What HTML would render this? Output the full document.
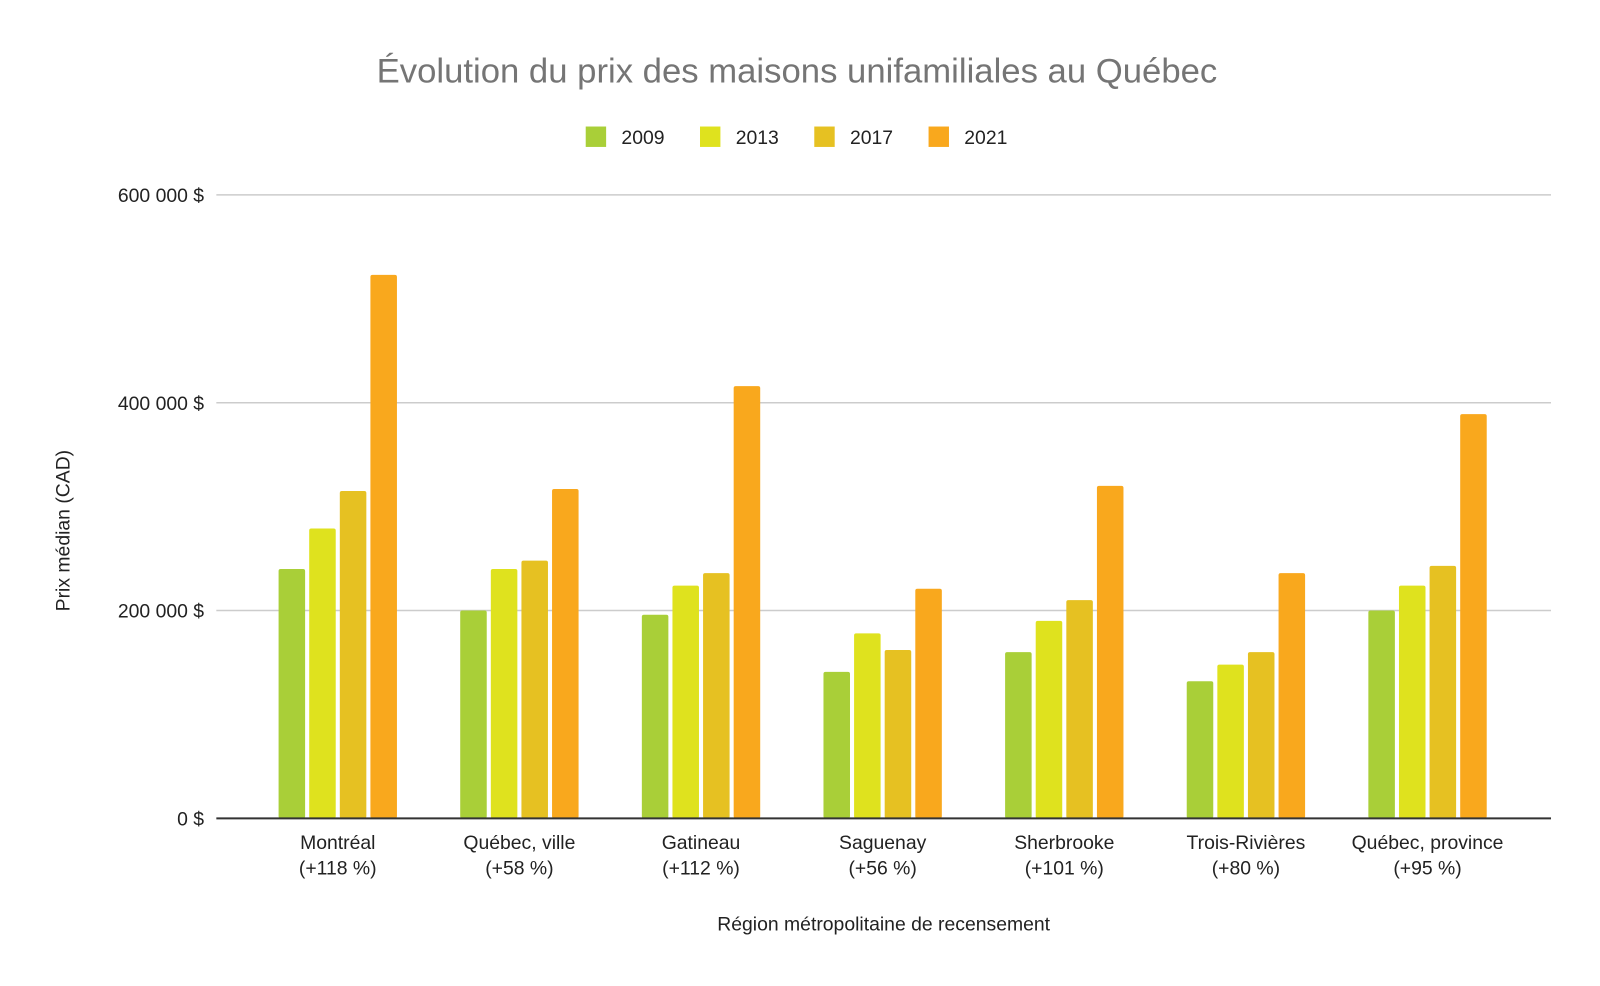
<!DOCTYPE html>
<html><head><meta charset="utf-8"><style>
body{margin:0;background:#fff;font-family:"Liberation Sans",Arial,sans-serif}
svg text{font-family:"Liberation Sans",Arial,sans-serif}
</style></head><body>
<svg id="chart" width="1600" height="986" viewBox="0 0 1568 966.3" xmlns="http://www.w3.org/2000/svg" style="display:block">
<rect width="1568" height="967" fill="#fff"/>
<text x="781" y="81" text-anchor="middle" font-size="34" fill="#757575">Évolution du prix des maisons unifamiliales au Québec</text>
<g id="legend"></g>
<g id="grid"></g><g id="bars"></g><g id="xlabels"></g>
<text transform="translate(68,520) rotate(-90)" text-anchor="middle" font-size="19" fill="#222">Prix médian (CAD)</text>
<text x="866" y="912" text-anchor="middle" font-size="19" fill="#222">Région métropolitaine de recensement</text>
</svg>
<script>
const categories=["Montréal","Québec, ville","Gatineau","Saguenay","Sherbrooke","Trois-Rivières","Québec, province"];
const changes=["(+118 %)","(+58 %)","(+112 %)","(+56 %)","(+101 %)","(+80 %)","(+95 %)"];
const seriesNames=["2009","2013","2017","2021"];
const s2009=[240000,200000,196000,141000,160000,132000,200000];
const s2013=[279000,240000,224000,178000,190000,148000,224000];
const s2017=[315000,248000,236000,162000,210000,160000,243000];
const s2021=[523000,317000,416000,221000,320000,236000,389000];
const yTicks=[0,200000,400000,600000];
const yTickLabels=["0 $","200 000 $","400 000 $","600 000 $"];
const colors=["#a9cf38","#dfe21e","#e6c122","#f9a81d"];
const series=[s2009,s2013,s2017,s2021];
const NS="http://www.w3.org/2000/svg";
const x0=212,x1=1520,bandL=242,bandR=1488,yBase=802,yTop=191,yMax=600000;
const y=v=>yBase-(v/yMax)*(yBase-yTop);
const band=(bandR-bandL)/categories.length;
const xc=i=>bandL+band*(i+0.5);
function mk(tag,attrs,parent){const e=document.createElementNS(NS,tag);for(const k in attrs)e.setAttribute(k,attrs[k]);document.getElementById(parent).appendChild(e);return e;}
yTicks.forEach((t,i)=>{
 if(t>0){const l=mk('line',{x1:x0,x2:x1,y1:y(t),y2:y(t),stroke:'#ccc','stroke-width':1.5},'grid');
 
 }
 const tx=mk('text',{x:200,y:y(t)+7,'text-anchor':'end','font-size':19,fill:'#222'},'grid');tx.textContent=yTickLabels[i];
 
 
});
const bw=26,step=30;
series.forEach((s,si)=>{s.forEach((v,ci)=>{
 const x=xc(ci)-2*step+si*step+(step-bw)/2;
 const r=mk('rect',{x:x,y:y(v),width:bw,height:yBase-y(v),fill:colors[si],rx:2},'bars');
 
 
});});
const ax=mk('line',{x1:x0,x2:x1,y1:yBase,y2:yBase,stroke:'#333','stroke-width':2},'bars');


categories.forEach((c,i)=>{
 const t=mk('text',{x:xc(i),y:832,'text-anchor':'middle','font-size':19,fill:'#222'},'xlabels');t.textContent=c;
 
 
 const t2=mk('text',{x:xc(i),y:857,'text-anchor':'middle','font-size':19,fill:'#222'},'xlabels');t2.textContent=changes[i];
 
 
});
const lx=[574,686,798,910];
seriesNames.forEach((n,i)=>{
 const r=mk('rect',{x:lx[i],y:124,width:20,height:20,fill:colors[i]},'legend');
 
 
 const t=mk('text',{x:lx[i]+35,y:141,'font-size':19,fill:'#222'},'legend');t.textContent=n;
 
 
});
</script>
</body></html>
